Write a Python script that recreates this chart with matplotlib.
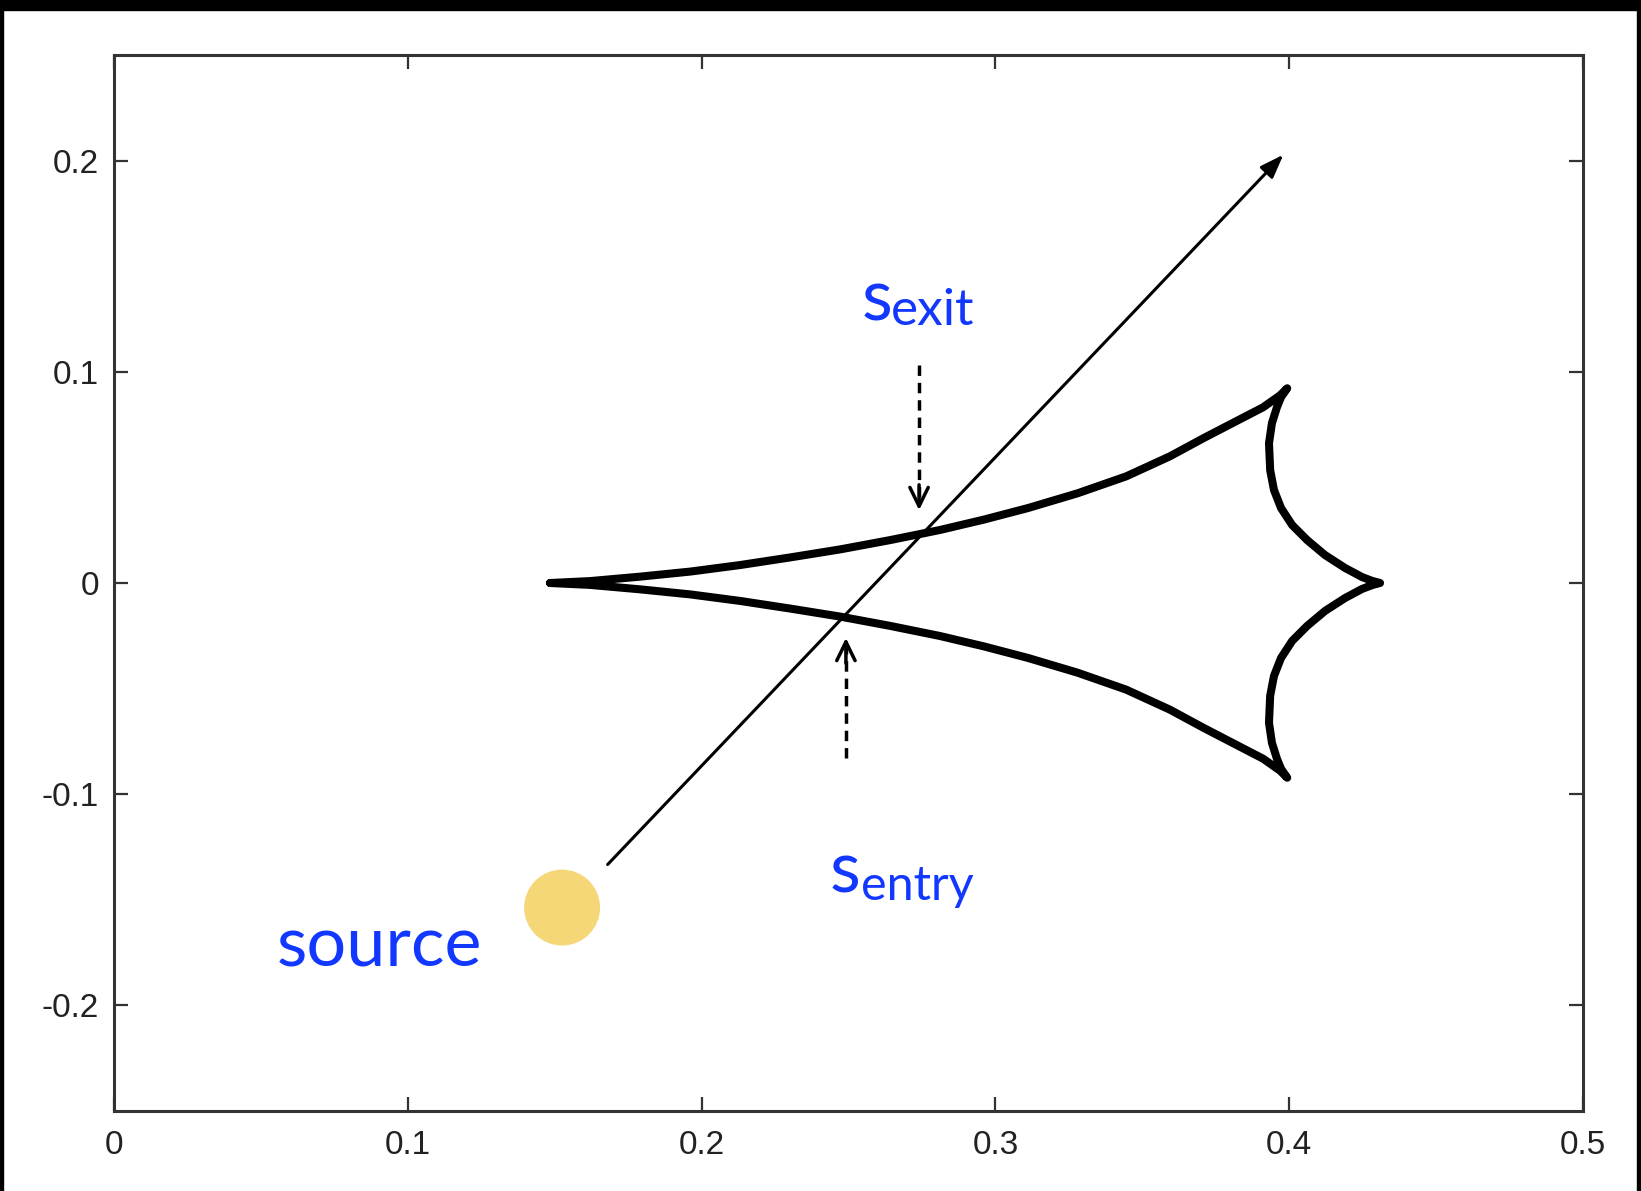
import matplotlib
matplotlib.use("Agg")
import matplotlib.pyplot as plt
from matplotlib.patches import Rectangle

# caustic, upper half (the lower half is its mirror image)
branch_x = [0.1484, 0.1620, 0.1790, 0.1961, 0.2131, 0.2301, 0.2471, 0.2641, 0.2811,
            0.2960, 0.3111, 0.3280, 0.3445, 0.3594, 0.3707, 0.3822, 0.3911, 0.3969, 0.3993]
branch_y = [0.0, 0.0009, 0.0030, 0.0054, 0.0085, 0.0121, 0.0159, 0.0203, 0.0251,
            0.0300, 0.0355, 0.0425, 0.0505, 0.0600, 0.0685, 0.0768, 0.0832, 0.0889, 0.0922]
arc_x = [0.3993, 0.3972, 0.3958, 0.3941, 0.3931, 0.3935, 0.3948, 0.3972, 0.4010,
         0.4061, 0.4122, 0.4190, 0.4248, 0.4282, 0.4309]
arc_y = [0.0922, 0.0880, 0.0832, 0.0757, 0.0662, 0.0534, 0.0440, 0.0355, 0.0274,
         0.0203, 0.0132, 0.0071, 0.0028, 0.0010, 0.0]

# source trajectory and source position
path_start = (0.168, -0.1333)
path_end = (0.398, 0.2028)
source_xy = (0.1525, -0.1537)

# dashed pointers: x, y_from, y_to
exit_arrow = (0.274, 0.103, 0.0345)
entry_arrow = (0.2491, -0.0827, -0.026)

xticks = [0, 0.1, 0.2, 0.3, 0.4, 0.5]
xtick_labels = ["0", "0.1", "0.2", "0.3", "0.4", "0.5"]
yticks = [-0.2, -0.1, 0, 0.1, 0.2]
ytick_labels = ["-0.2", "-0.1", "0", "0.1", "0.2"]

blue = "#1238FF"
label_font = ["Lato", "DejaVu Sans"]

fig = plt.figure(figsize=(16.41, 11.91), dpi=100)
ax = fig.add_axes([0.0695, 0.0672, 0.8952, 0.8866])

# closed caustic outline
cx = branch_x + arc_x[1:] + arc_x[::-1][1:] + branch_x[::-1][1:]
cy = branch_y + arc_y[1:] + [-v for v in arc_y[::-1][1:]] + [-v for v in branch_y[::-1][1:]]
ax.plot(cx, cy, color="black", lw=5.8, solid_joinstyle="round", solid_capstyle="round", zorder=3)

ax.annotate("", xy=path_end, xytext=path_start,
            arrowprops=dict(arrowstyle="-|>,head_length=0.55,head_width=0.2", color="black",
                            lw=2.2, mutation_scale=26, shrinkA=0, shrinkB=0), zorder=4)

for xa, y0, y1 in (exit_arrow, entry_arrow):
    step = 0.012 if y1 < y0 else -0.012
    ax.plot([xa, xa], [y0, y1 + step * 0.4], color="black", lw=2.5, ls=(0, (3.0, 2.0)), zorder=4)
    ax.annotate("", xy=(xa, y1), xytext=(xa, y1 + step),
                arrowprops=dict(arrowstyle="->,head_length=0.45,head_width=0.22", color="black",
                                lw=2.5, mutation_scale=30, shrinkA=0, shrinkB=0), zorder=4)

ax.scatter([source_xy[0]], [source_xy[1]], s=2990, color="#F5D778", edgecolors="none", zorder=5)

ax.text(0.2545, 0.1243, "s", color=blue, fontsize=51, family=label_font, ha="left", va="baseline")
ax.text(0.2645, 0.1220, "exit", color=blue, fontsize=37, family=label_font, ha="left", va="baseline")
ax.text(0.2436, -0.1466, "s", color=blue, fontsize=51, family=label_font, ha="left", va="baseline")
ax.text(0.2543, -0.1499, "entry", color=blue, fontsize=35, family=label_font, ha="left", va="baseline")
ax.text(0.0555, -0.1816, "source", color=blue, fontsize=50.5, family=label_font, ha="left", va="baseline")

ax.set_xlim(0, 0.5)
ax.set_ylim(-0.25, 0.25)
ax.set_xticks(xticks)
ax.set_xticklabels(xtick_labels)
ax.set_yticks(yticks)
ax.set_yticklabels(ytick_labels)
ax.tick_params(direction="in", length=10, width=1.6, colors="#333333", labelcolor="#222222",
               labelsize=24, top=True, right=True)
ax.tick_params(axis="x", pad=14)
ax.tick_params(axis="y", pad=11)
for lab in ax.get_xticklabels() + ax.get_yticklabels():
    lab.set_family(["Liberation Sans", "DejaVu Sans"])
for sp in ax.spines.values():
    sp.set_linewidth(2.2)
    sp.set_color("#333333")

# black frame strips along the picture edges
fig.patches.append(Rectangle((0, 1 - 10 / 1191), 1, 10 / 1191, transform=fig.transFigure,
                             color="black", zorder=10))
fig.patches.append(Rectangle((0, 0), 3 / 1641, 1, transform=fig.transFigure, color="black", zorder=10))
fig.patches.append(Rectangle((1 - 4 / 1641, 0), 4 / 1641, 1, transform=fig.transFigure,
                             color="black", zorder=10))

fig.savefig("out.png", dpi=100)
